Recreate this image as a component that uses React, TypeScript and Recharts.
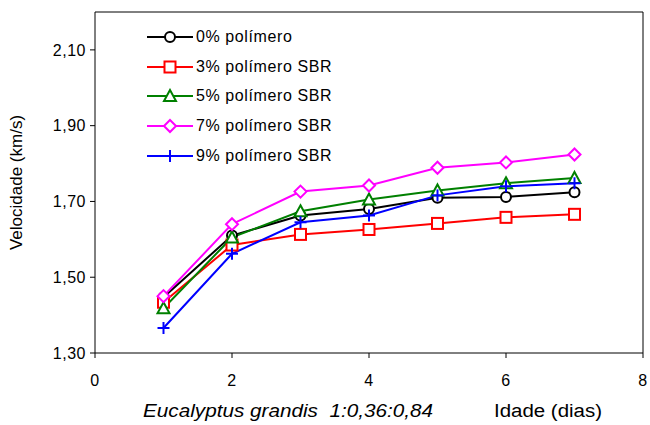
import React from 'react'
import {
  LineChart, Line, XAxis, YAxis, ReferenceLine, Label,
} from 'recharts'

const days = [1, 2, 3, 4, 5, 6, 7]
const p0 = [1.447, 1.61, 1.663, 1.68, 1.71, 1.712, 1.724]
const p3 = [1.434, 1.585, 1.613, 1.626, 1.642, 1.658, 1.666]
const p5 = [1.418, 1.605, 1.674, 1.705, 1.729, 1.748, 1.762]
const p7 = [1.45, 1.64, 1.726, 1.742, 1.789, 1.803, 1.824]
const p9 = [1.366, 1.562, 1.645, 1.663, 1.716, 1.74, 1.748]
const xTicks = [0, 2, 4, 6, 8]
const yTicks = [1.3, 1.5, 1.7, 1.9, 2.1]

const series = [
  { key: 'p0', name: '0% polímero', color: '#000000', shape: 'circle' },
  { key: 'p3', name: '3% polímero SBR', color: '#FF0000', shape: 'square' },
  { key: 'p5', name: '5% polímero SBR', color: '#008000', shape: 'triangle' },
  { key: 'p7', name: '7% polímero SBR', color: '#FF00FF', shape: 'diamond' },
  { key: 'p9', name: '9% polímero SBR', color: '#0000FF', shape: 'plus' },
]

const data = days.map((d, i) => ({ day: d, p0: p0[i], p3: p3[i], p5: p5[i], p7: p7[i], p9: p9[i] }))

const FONT = 'Arial, "Liberation Sans", sans-serif'

function Marker({ cx, cy, shape, color }: { cx: number; cy: number; shape: string; color: string }) {
  if (cx == null || cy == null) return null
  const sw = 2
  switch (shape) {
    case 'circle':
      return <circle cx={cx} cy={cy} r={5} fill="#fff" stroke={color} strokeWidth={sw} />
    case 'square':
      return <rect x={cx - 5.5} y={cy - 5.5} width={11} height={11} fill="#fff" stroke={color} strokeWidth={sw} />
    case 'triangle':
      return <polygon points={`${cx},${cy - 6} ${cx + 6},${cy + 5} ${cx - 6},${cy + 5}`} fill="#fff" stroke={color} strokeWidth={sw} />
    case 'diamond':
      return <polygon points={`${cx},${cy - 6} ${cx + 6},${cy} ${cx},${cy + 6} ${cx - 6},${cy}`} fill="#fff" stroke={color} strokeWidth={sw} />
    default:
      return (
        <g stroke={color} strokeWidth={sw}>
          <line x1={cx - 6} y1={cy} x2={cx + 6} y2={cy} />
          <line x1={cx} y1={cy - 6} x2={cx} y2={cy + 6} />
        </g>
      )
  }
}

function LegendBox() {
  return (
    <div style={{ position: 'absolute', left: 147, top: 22, fontFamily: FONT, fontSize: 16, letterSpacing: 0.6, color: '#000' }}>
      {series.map(s => (
        <div key={s.key} style={{ display: 'flex', alignItems: 'center', height: 29.8 }}>
          <svg width={48} height={16}>
            <line x1={0} y1={8} x2={46} y2={8} stroke={s.color} strokeWidth={2} />
            <Marker cx={23} cy={8} shape={s.shape} color={s.color} />
          </svg>
          <span style={{ marginLeft: 1 }}>{s.name}</span>
        </div>
      ))}
    </div>
  )
}

export default function App() {
  const tick = { fill: '#000', fontSize: 16, fontFamily: FONT, letterSpacing: 0.5 }
  return (
    <div style={{ position: 'absolute', left: 0, top: 0, width: 650, height: 425, background: '#fff' }}>
      <LineChart width={650} height={425} data={data} margin={{ top: 12, right: 7, bottom: 42, left: 0 }}>
        <XAxis
          dataKey="day"
          type="number"
          domain={[0, 8]}
          ticks={xTicks}
          tick={tick}
          stroke="#000"
          tickSize={5}
          tickMargin={17}
          height={30}
        />
        <YAxis
          type="number"
          domain={[1.3, 2.2]}
          ticks={yTicks}
          tick={tick}
          stroke="#000"
          tickSize={5}
          tickMargin={4}
          width={95}
          allowDataOverflow
          tickFormatter={v => v.toFixed(2).replace('.', ',')}
        >
          <Label
            value="Velocidade (km/s)"
            angle={-90}
            position="insideLeft"
            offset={16}
            style={{ fill: '#000', fontSize: 17, fontFamily: FONT, textAnchor: 'middle' }}
          />
        </YAxis>
        <ReferenceLine y={2.2} stroke="#000" ifOverflow="visible" />
        <ReferenceLine x={8} stroke="#000" ifOverflow="visible" />
        {series.map(s => (
          <Line
            key={s.key}
            dataKey={s.key}
            name={s.name}
            stroke={s.color}
            strokeWidth={2}
            isAnimationActive={false}
            dot={(p: any) => <Marker key={`${s.key}-${p.index}`} cx={p.cx} cy={p.cy} shape={s.shape} color={s.color} />}
          />
        ))}
        <text x={143} y={417} fontFamily={FONT} fontSize={18} fontStyle="italic" fill="#000"
          textLength={290} lengthAdjust="spacingAndGlyphs" style={{ whiteSpace: 'pre' }}>
          {'Eucalyptus grandis  1:0,36:0,84'}
        </text>
        <text x={494} y={417} fontFamily={FONT} fontSize={18} fill="#000"
          textLength={108} lengthAdjust="spacingAndGlyphs">
          Idade (dias)
        </text>
      </LineChart>
      <LegendBox />
    </div>
  )
}
